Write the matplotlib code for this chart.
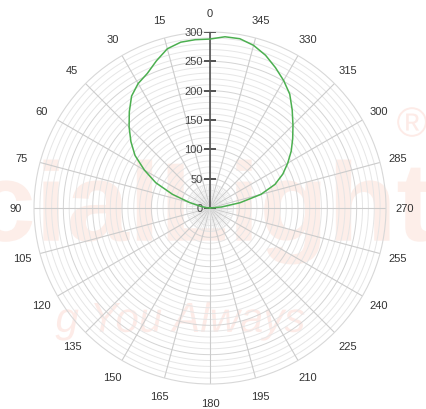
import numpy as np
import matplotlib
matplotlib.use("Agg")
import matplotlib.pyplot as plt
from matplotlib.textpath import TextPath
from matplotlib.patches import PathPatch
from matplotlib.font_manager import FontProperties
from matplotlib.transforms import Affine2D

plt.rcParams['font.family'] = ['Liberation Sans', 'DejaVu Sans']

# polar intensity curve, angle in degrees (0 at top, counter-clockwise)
angles = [270, 275, 280, 285, 290, 295, 300, 305, 310, 315, 320, 325, 330, 335,
          340, 345, 350, 355, 360, 365, 370, 375, 380, 385, 390, 395, 400, 405,
          410, 415, 420, 425, 430, 435, 440, 445, 450]
values = [0, 20, 52, 90, 118, 137, 153, 169, 184, 200, 218, 237, 251, 264,
          277, 287, 293, 293, 288, 288, 287, 281, 267, 253, 245, 233, 214, 195,
          176, 156, 129, 102, 68, 36, 16, 6, 0]

angle_labels = list(range(0, 360, 15))
radial_ticks = [0, 50, 100, 150, 200, 250, 300]
rmax = 300

fig = plt.figure(figsize=(4.27, 4.10), dpi=100)


def watermark(s, cx, cy, size, color, **kw):
    # background logo drawn as a shape (pixel coords, centred at cx, cy)
    tp = TextPath((0, 0), s, size=size, prop=FontProperties(family='Liberation Sans', **kw))
    ext = tp.get_extents()
    tr = Affine2D().translate(cx - (ext.x0 + ext.x1) / 2, cy - (ext.y0 + ext.y1) / 2)
    fig.add_artist(PathPatch(tp, transform=tr, facecolor=color, edgecolor='none', zorder=0))


watermark("cialLight", 205, 197, 112, '#fdeee9', weight='bold')
watermark("g You Always", 180, 88, 42, '#fdebe7', style='italic')
watermark("\u00ae", 412, 287, 42, '#fdebe7')

ax = fig.add_axes([0.0796, 0.061, 0.8244, 0.8585], projection='polar')
ax.set_zorder(1)
ax.set_facecolor('none')
ax.set_theta_zero_location('N')
ax.set_theta_direction(1)
ax.set_ylim(0, rmax)
ax.grid(False)
ax.set_xticks([])
ax.set_yticks([])
ax.spines['polar'].set_color('#d8d8d8')
ax.spines['polar'].set_linewidth(0.8)

th = np.linspace(0, 2 * np.pi, 361)
for r in range(10, rmax, 10):
    col = '#d4d4d4' if r % 50 == 0 else '#e6e6e6'
    ax.plot(th, np.full_like(th, r), color=col, lw=0.7, zorder=1)

for a in range(0, 360, 5):
    t = np.radians(a)
    if a % 15 == 0:
        ax.plot([t, t], [0, rmax], color='#cccccc', lw=0.8, zorder=1)
    else:
        ax.plot([t, t], [0, 40], color='#e6e6e6', lw=0.5, zorder=1)

# radial axis with ticks
ax.plot([0, 0], [0, rmax], color='#555555', lw=1.2, zorder=3)
for r in radial_ticks:
    ax.plot([0], [r], marker='_', markersize=8, color='#555555', mew=1.1, zorder=3)
    ax.annotate(str(r), xy=(0, r), xytext=(-7, 0), textcoords='offset pixels',
                ha='right', va='center', fontsize=8, color='#444444', zorder=4)

for a in angle_labels:
    ax.text(np.radians(a), 332, str(a), ha='center', va='center',
            fontsize=8, color='#333333')

ax.plot(np.radians(angles), values, color='#4caf50', lw=1.1, zorder=5)

fig.savefig('out.png', dpi=100)
